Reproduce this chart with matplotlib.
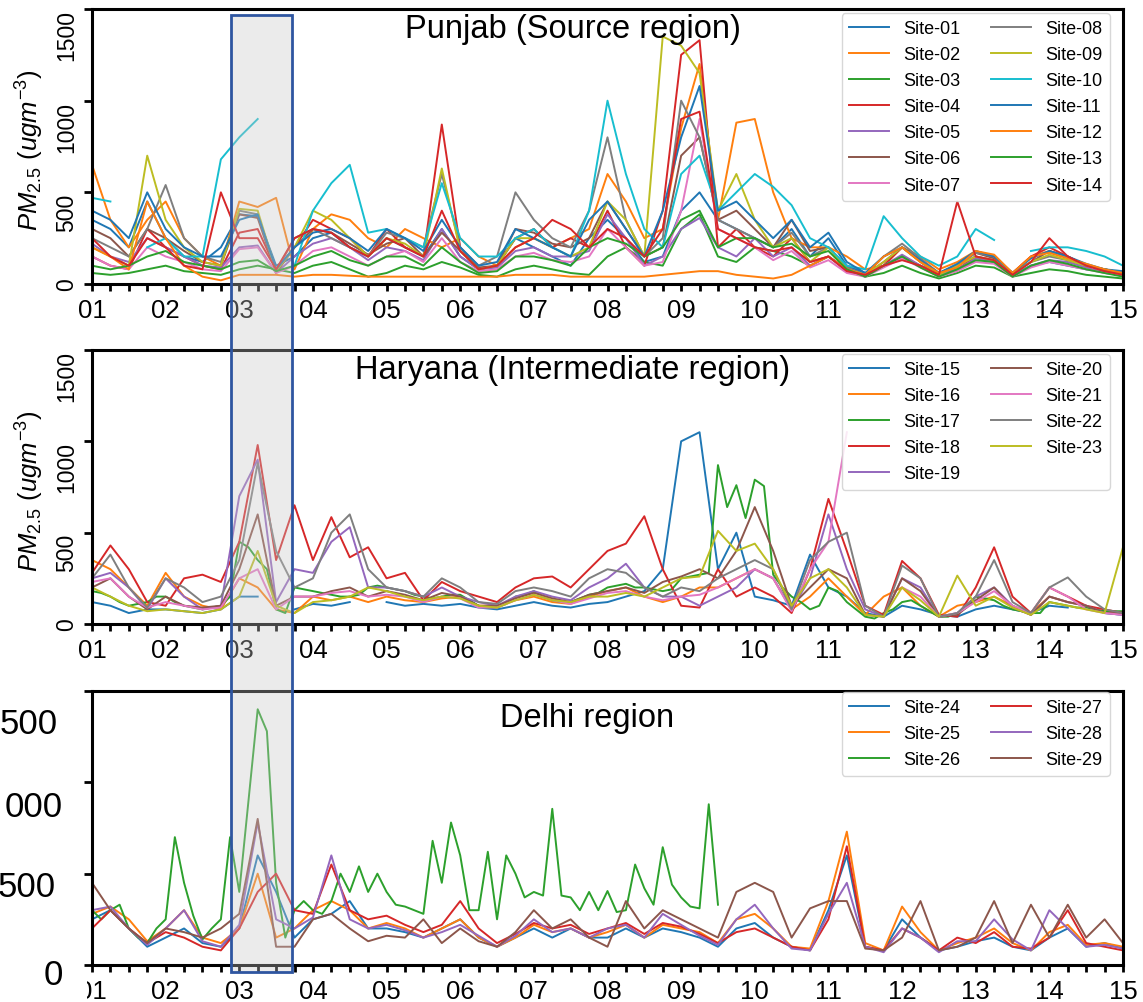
import numpy as np
import matplotlib.pyplot as plt
from matplotlib.patches import Rectangle
from matplotlib.ticker import MultipleLocator

plt.rcParams['font.family'] = ['Liberation Sans', 'DejaVu Sans']
plt.rcParams['mathtext.fontset'] = 'custom'
plt.rcParams['mathtext.it'] = 'Liberation Sans:italic'
plt.rcParams['mathtext.rm'] = 'Liberation Sans'

N = None  # missing value

# x axis: days 01..15, values every 6 h (57 pts) or every 3 h (113 pts)
days = list(range(1, 16))
day_labels = ['%02d' % d for d in days]

# ---------------- Punjab (Source region) ----------------
punjab_names = ['Site-%02d' % i for i in range(1, 15)]
site01 = [350, 300, 200, 450, 250, 150, 120, 200, 380, 370, 100, 150, 250, 280, 200, 150,
          250, 200, 150, 300, 150, 80, 100, 250, 200, 150, 100, 250, 350, 250, 120, 150,
          400, 500, 350, 300, 250, 200, 300, 150, 250, 100, 60, 100, 150, 100, 60, 100,
          150, 120, 50, 100, 120, 100, 80, 70, 60]
site02 = [650, 350, 200, 350, 450, 250, 150, 100, 450, 420, 470, 80, 300, 380, 350, 250,
          200, 300, 250, 200, 250, 150, 100, 200, 250, 200, 250, 300, 600, 450, 250, 300,
          850, 1200, 350, 880, 900, 500, 250, 200, 200, 150, 80, 100, 200, 150, 80, 120,
          180, 150, 60, 150, 180, 150, 100, 80, 60]
site03 = [60, 50, 60, 80, 100, 70, 60, 50, 80, 100, 80, 60, 100, 120, 80, 40,
          60, 100, 80, 120, 90, 50, 40, 80, 100, 80, 60, 50, 150, 200, 120, 100,
          300, 380, 150, 120, 200, 180, 150, 100, 150, 80, 40, 60, 100, 60, 30, 60,
          100, 90, 40, 60, 80, 70, 50, 40, 30]
site04 = [150, 100, 80, 300, 200, 150, 100, 80, 280, 300, 80, 200, 350, 300, 250, 150,
          300, 200, 150, 870, 200, 80, 100, 250, 300, 200, 250, 200, 400, 200, 100, 400,
          1250, 1330, 200, 300, 200, 150, 250, 120, 150, 80, 50, 100, 200, 120, 50, 80,
          150, 130, 60, 150, 200, 150, 100, 80, 60]
site05 = [220, 150, 120, 250, 200, 150, 100, 90, 200, 210, 60, 150, 220, 250, 200, 130,
          200, 180, 130, 300, 150, 80, 90, 180, 200, 150, 150, 180, 380, 250, 100, 150,
          300, 360, 200, 150, 250, 150, 200, 100, 150, 70, 40, 100, 160, 100, 50, 80,
          140, 120, 50, 100, 130, 120, 90, 60, 50]
site06 = [300, 250, 150, 300, 250, 180, 120, 100, 380, 360, 60, 200, 300, 280, 220, 160,
          220, 250, 150, 280, 180, 90, 100, 300, 280, 220, 200, 250, 450, 300, 150, 200,
          700, 800, 350, 400, 300, 200, 350, 180, 200, 90, 50, 120, 200, 130, 60, 100,
          170, 140, 60, 120, 180, 150, 100, 80, 60]
site07 = [150, 100, 80, 200, 150, 120, 80, 70, 190, 200, 60, 100, 180, 200, 150, 100,
          150, 180, 120, 250, 120, 70, 80, 150, 170, 130, 120, 150, 300, 200, 100, 120,
          400, 900, 300, 250, 200, 130, 180, 90, 130, 60, 40, 90, 140, 90, 40, 70,
          120, 110, 40, 90, 120, 100, 80, 60, 50]
site08 = [250, 200, 150, 300, 540, 250, 150, 120, 400, 380, 70, 250, 300, 250, 200, 150,
          280, 250, 200, 600, 200, 100, 150, 500, 350, 250, 200, 400, 800, 350, 150, 250,
          1000, 800, 350, 300, 250, 200, 280, 150, 200, 90, 50, 150, 220, 140, 60, 100,
          170, 150, 60, 120, 150, 130, 100, 80, 60]
site09 = [200, 150, 100, 700, 350, 200, 120, 100, 410, 400, 70, 200, 400, 350, 250, 150,
          250, 220, 150, 630, 180, 80, 100, 250, 250, 200, 150, 200, 450, 350, 150, 1350,
          1300, 1150, 400, 600, 350, 200, 250, 120, 200, 80, 50, 120, 200, 120, 50, 100,
          150, 130, 60, 120, 160, 130, 100, 80, 60]
site10 = [470, 450, N, 200, 250, 150, 150, 680, 800, 900, N, 100, 400, 550, 650, 280,
          300, 250, 200, 550, 250, 150, 150, 250, 300, 200, 150, 400, 1000, 600, 300, 200,
          600, 700, 400, 500, 600, 530, 430, 250, 200, 100, 80, 370, 250, 150, 100, 150,
          300, 240, N, 180, 200, 200, 180, 150, 100]
site11 = [400, 350, 250, 500, 300, 200, 150, 150, 350, 380, 80, 200, 280, 300, 250, 180,
          300, 250, 180, 350, 200, 100, 120, 300, 250, 200, 150, 350, 450, 300, 150, 400,
          800, 1080, 400, 450, 350, 250, 350, 200, 280, 120, 60, 150, 200, 130, 60, 110,
          180, 150, 60, 140, 180, 150, 110, 80, 70]
site12 = [200, 150, 80, 450, 250, 100, 40, 20, 50, 50, 50, 40, 50, 50, 45, 40,
          40, 40, 40, 40, 40, 40, 40, 50, 50, 50, 40, 40, 40, 40, 40, 50,
          60, 70, 70, 50, 40, 30, 50, 100, 150, 80, 50, 150, 200, 120, 60, 90,
          180, 160, 60, 150, 170, 140, 110, 80, 60]
site13 = [100, 80, 100, 150, 180, 120, 100, 80, 120, 130, 70, 100, 150, 180, 130, 100,
          150, 150, 100, 200, 120, 60, 70, 150, 150, 130, 100, 200, 250, 220, 150, 200,
          350, 400, 200, 250, 250, 200, 220, 150, 180, 80, 40, 100, 150, 90, 40, 80,
          130, 120, 40, 100, 130, 110, 80, 60, 40]
site14 = [250, 150, 100, 250, 200, 100, 80, 500, 250, 250, 80, 250, 300, 280, 200, 150,
          250, 200, 150, 400, 180, 80, 100, 200, 250, 350, 300, 200, 300, 250, 150, 300,
          900, 940, 300, 250, 200, 180, 200, 120, 150, 70, 50, 100, 130, 100, 50, 450,
          150, 130, 50, 120, 250, 150, 100, 70, 50]
punjab_data = [site01, site02, site03, site04, site05, site06, site07,
               site08, site09, site10, site11, site12, site13, site14]

# ---------------- Haryana (Intermediate region) ----------------
haryana_names = ['Site-%02d' % i for i in range(15, 24)]
site15 = [120, 100, 60, 80, 80, 70, 60, 80, 150, 150, N, 80, 110, 100, 120, N,
          120, 100, 110, 100, 110, 90, 80, 100, 120, 100, 90, 110, 120, 150, 180, 300,
          1000, 1050, 300, 500, 150, 130, 100, 380, 200, 150, 60, 40, 100, 80, 50, 40,
          80, 100, 80, 60, 100, 90, N, 60, 50]
site16 = [350, 300, 200, 100, 280, 150, 100, 80, 250, 200, 80, 60, 150, 130, 150, 120,
          150, 130, 120, 140, 150, 100, 100, 130, 150, 120, 110, 150, 180, 200, 150, 120,
          150, 200, 200, 250, 300, 250, 80, 150, 250, 150, 50, 150, 200, 100, 40, 100,
          120, 150, 100, 60, 150, 120, 100, 60, 60]
site17 = [180, 170, 150, 120, 100, 110, 120, 150,
          150, 120, 100, 90, 80, 90, 100, 150,
          450, 420, 350, 300, 80, 60, 200, 190,
          180, 170, 160, 150, 150, 160, 200, 210,
          200, 190, 180, 160, 150, 140, 150, 160,
          160, 130, 100, 90, 90, 110, 150, 160,
          180, 150, 130, 120, 120, 140, 160, 170,
          200, 210, 220, 200, 200, 190, 180, 190,
          250, 260, 270, 280, 870, 640, 760, 580,
          790, 755, 270, 200, 150, 120, 80, 100,
          200, 180, 120, 80, 40, 30, 60, 80,
          120, 130, 100, 70, 40, 40, 60, 90,
          150, 140, 130, 100, 80, 70, 60, 60,
          120, 110, 100, 90, 90, 80, 70, 70,
          70]
site18 = [280, 430, 300, 120, 100, 250, 270, 230, 450, 980, 350, 650, 350, 585, 365, 420,
          250, 280, 130, 230, 180, 150, 120, 200, 250, 260, 200, 300, 400, 440, 590, 300,
          100, 90, 300, 150, 200, 150, 60, 300, 685, 400, 100, 50, 345, 250, 50, 40,
          200, 420, 150, 60, 200, 150, 100, 80, 60]
site19 = [250, 280, 200, 80, 250, 150, 80, 100, 700, 900, 120, 300, 280, 450, 530, 200,
          200, 180, 150, 200, 150, 120, 100, 150, 180, 150, 130, 200, 250, 330, 200, 150,
          150, 100, 150, 200, 300, 250, 80, 250, 600, 300, 80, 40, 250, 200, 40, 60,
          150, 200, 100, 50, 150, 120, 100, 60, 50]
site20 = [200, 250, 150, 80, 150, 100, 90, 100, 300, 600, 100, 150, 150, 180, 200, 150,
          180, 160, 130, 170, 150, 100, 100, 140, 170, 140, 120, 160, 180, 200, 170, 230,
          260, 300, 250, 400, 640, 400, 100, 200, 300, 250, 50, 40, 250, 180, 40, 50,
          130, 200, 90, 50, 150, 120, 100, 60, 60]
site21 = [230, 250, 150, 90, 120, 100, 80, 90, 250, 300, 80, 150, 150, 170, 180, 150,
          160, 150, 120, 150, 140, 90, 90, 130, 160, 130, 110, 140, 170, 180, 150, 130,
          150, 160, 200, 250, 300, 250, 70, 300, 450, 1050, N, N, 200, 150, 40, 60,
          120, 180, 100, 60, 200, 150, 80, 60, 50]
site22 = [250, 380, 200, 90, 250, 200, 120, 150, 350, 880, 400, 200, 250, 500, 600, 300,
          200, 180, 150, 250, 200, 120, 110, 180, 200, 180, 150, 250, 300, 280, 200, 150,
          200, 180, 250, 300, 350, 300, 80, 350, 450, 500, 100, 40, 320, 250, 40, 60,
          150, 350, 120, 60, 200, 255, 150, 80, 60]
site23 = [200, 150, 100, 70, 80, 70, 60, 80, 150, 400, 100, 60, 120, 130, 150, 200,
          180, 150, 130, 150, 140, 100, 90, 130, 160, 130, 120, 150, 150, 170, 150, 200,
          250, 260, 510, 400, 440, 300, 100, 250, 300, 200, 50, 40, 200, 130, 40, 265,
          100, 150, 90, 50, 120, 100, 80, 60, 420]
haryana_data = [site15, site16, site17, site18, site19,
                site20, site21, site22, site23]

# ---------------- Delhi region ----------------
delhi_names = ['Site-%02d' % i for i in range(24, 30)]
site24 = [250, 300, 200, 100, 150, 200, 120, 100, 200, 600, 400, 150, 250, 280, 350, 200,
          200, 180, 150, 200, 250, 150, 100, 150, 200, 150, 200, 150, 150, 200, 150, 200,
          180, 150, 100, 200, 230, 150, 100, 80, 300, 600, 100, 80, 250, 150, 80, 100,
          130, 150, 100, 80, 150, 200, 100, 120, 90]
site25 = [280, 320, 250, 130, 200, 300, 150, 120, 200, 500, 150, 200, 300, 350, 300, 200,
          230, 200, 150, 200, 250, 150, 100, 150, 220, 180, 200, 150, 180, 220, 150, 220,
          200, 180, 120, 250, 280, 200, 100, 90, 350, 730, 120, 80, 320, 180, 80, 120,
          150, 200, 120, 80, 180, 220, 110, 120, 100]
site26 = [300, 250, 300, 330, 200, 150, 120, 200,
          250, 700, 450, 270, 140, 200, 250, 700,
          400, 900, 1400, 1280, 450, 150, 300, 350,
          300, 280, 350, 500, 400, 540, 400, 500,
          400, 330, 320, 300, 280, 680, 450, 780,
          600, 300, 300, 620, 250, 600, 500, 370,
          400, 380, 855, 380, 370, 300, 400, 300,
          405, 290, 300, 550, 420, 330, 645, 440,
          370, 320, 310, 880, 330, N, N, N,
          N, N, N, N, N, N, N, N,
          N, N, N, N, N, N, N, N,
          N, N, N, N, N, N, N, N,
          N, N, N, N, N, N, N, N,
          N, N, N, N, N, N, N, N,
          N]
site27 = [200, 300, 200, 120, 180, 150, 100, 80, 200, 400, 500, 300, 280, 550, 300, 250,
          270, 220, 180, 220, 350, 200, 120, 170, 230, 200, 220, 170, 200, 230, 170, 230,
          210, 170, 120, 180, 200, 150, 100, 80, 250, 650, 100, 80, 200, 150, 80, 150,
          120, 180, 100, 90, 150, 300, 120, 100, 80]
site28 = [300, 320, 200, 110, 200, 300, 130, 100, 220, 780, 250, 200, 260, 600, 250, 200,
          220, 190, 150, 180, 220, 160, 100, 160, 250, 180, 200, 150, 200, 220, 150, 280,
          220, 160, 110, 250, 330, 200, 90, 80, 280, 450, 100, 70, 200, 150, 70, 130,
          130, 250, 140, 80, 300, 200, 100, 110, 90]
site29 = [450, 300, 200, 120, 200, 180, 150, 200, 280, 800, 100, 100, 250, 280, 200, 130,
          160, 150, 250, 120, 200, 130, 100, 180, 300, 200, 250, 150, 100, 350, 200, 300,
          250, 200, 150, 400, 450, 400, 150, 310, 350, 350, 90, 80, 150, 350, 80, 100,
          150, 350, 120, 330, 150, 330, 150, 250, 120]
delhi_data = [site24, site25, site26, site27, site28, site29]

W, H = 1143, 1003
fig = plt.figure(figsize=(W / 100, H / 100), dpi=100)


def box(l, t, r, b):
    return [l / W, 1 - b / H, (r - l) / W, (b - t) / H]


ax1 = fig.add_axes(box(92, 10, 1123, 285))
ax2 = fig.add_axes(box(92, 351, 1123, 625))
ax3 = fig.add_axes(box(92, 692, 1123, 966))

panels = [
    (ax1, punjab_names, punjab_data, 'Punjab (Source region)', 0.466, 0.93, 0.985),
    (ax2, haryana_names, haryana_data, 'Haryana (Intermediate region)', 0.466, 0.93, 0.985),
    (ax3, delhi_names, delhi_data, 'Delhi region', 0.48, 0.905, 0.996),
]

for ax, names, data, title, tx, ty, ly in panels:
    for name, vals in zip(names, data):
        y = np.array([np.nan if v is None else v for v in vals], dtype=float)
        x = np.linspace(1, 15, len(y))
        ax.plot(x, y, lw=1.4, label=name)
    ax.set_xlim(1, 15)
    ax.set_ylim(0, 1500)
    ax.set_xticks(days)
    ax.set_xticklabels(day_labels)
    ax.xaxis.set_minor_locator(MultipleLocator(0.25))
    ax.set_yticks([0, 500, 1000, 1500])
    ax.set_yticklabels(['0', '500', '1000', '1500'])
    ax.tick_params(axis='x', which='major', length=5, width=2, labelsize=18.5, pad=5)
    ax.tick_params(axis='x', which='minor', length=5, width=2)
    ax.tick_params(axis='y', which='major', length=6, width=2, labelsize=16.5,
                   labelrotation=90, pad=4)
    labels = ax.get_yticklabels()
    for lbl in labels:
        lbl.set_va('top')
    labels[0].set_va('center')
    for sp in ax.spines.values():
        sp.set_linewidth(2.2)
        sp.set_color('black')
    ax.text(tx, ty, title, transform=ax.transAxes, ha='center', va='center', fontsize=23.5)
    ax.legend(ncol=2, loc='upper right', bbox_to_anchor=(0.987, ly), borderaxespad=0,
              fontsize=13, labelspacing=0.5, handlelength=2.2, columnspacing=1.7,
              framealpha=0.85, edgecolor='#d0d0d0')

for ax in (ax1, ax2):
    ax.set_ylabel(r'$PM_{2.5}\ (ugm^{-3})$', fontsize=18.5)
    ax.yaxis.set_label_coords(-0.045, 0.49)

ax3.tick_params(axis='y', labelleft=False)

# highlighted period (shaded box spanning all panels)
fig.add_artist(Rectangle((231 / W, 1 - 973 / H), 61 / W, 957 / H, transform=fig.transFigure,
                         facecolor='#c8c8c8', alpha=0.35, edgecolor='none', zorder=5))
fig.add_artist(Rectangle((231 / W, 1 - 973 / H), 61 / W, 957 / H, transform=fig.transFigure,
                         fill=False, edgecolor='#2e55a0', lw=2, zorder=6))

# pasted-over y labels on the Delhi panel (only their visible part)
fig.add_artist(Rectangle((0, 0), 87 / W, 32 / H, transform=fig.transFigure,
                         facecolor='white', edgecolor='none', zorder=7))
for txt, xr, yc in [('500', 58, 724), ('000', 63, 808), ('500', 56, 888), ('0', 63, 976)]:
    fig.text(xr / W, 1 - yc / H, txt, ha='right', va='center', fontsize=25, zorder=8)

fig.savefig('out.png', dpi=100)
